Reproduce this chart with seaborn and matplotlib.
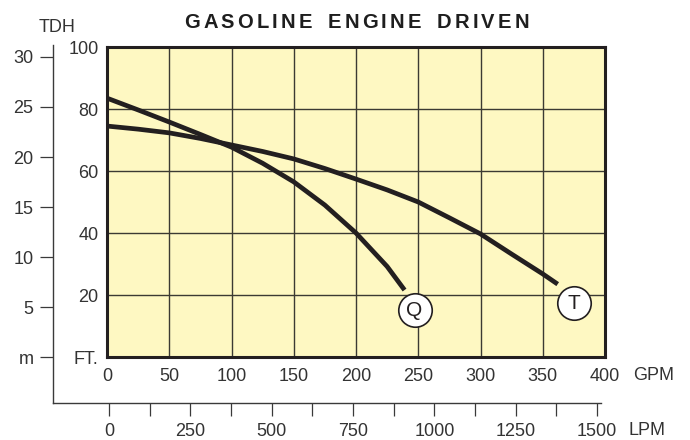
import matplotlib
matplotlib.use("Agg")
import matplotlib.pyplot as plt
import numpy as np
import pandas as pd
import seaborn as sns
from matplotlib.ticker import FixedLocator
from matplotlib.font_manager import findfont, FontProperties
from matplotlib.ft2font import FT2Font

plt.rcParams['font.family'] = ['Liberation Sans', 'DejaVu Sans']

# ---- data ----
gpm_T = [0, 25, 50, 75, 100, 125, 150, 175, 200, 225, 250, 275, 300, 325, 350, 362]
ft_T = [74.5, 73.5, 72.3, 70.5, 68.4, 66.3, 63.9, 60.8, 57.4, 53.9, 50.0, 44.9, 39.7, 33.2, 26.8, 23.5]
gpm_Q = [0, 25, 50, 75, 100, 125, 150, 175, 200, 225, 239]
ft_Q = [83.5, 79.7, 75.8, 71.8, 67.7, 62.5, 56.5, 49.0, 40.0, 29.2, 21.6]

gpm_ticks = [0, 50, 100, 150, 200, 250, 300, 350, 400]
ft_ticks = [0, 20, 40, 60, 80, 100]
ft_labels = ['FT.', '20', '40', '60', '80', '100']
m_ticks = [0, 5, 10, 15, 20, 25, 30]
m_labels = ['m', '5', '10', '15', '20', '25', '30']
lpm_ticks = [0, 250, 500, 750, 1000, 1250, 1500]
lpm_minor = [125, 375, 625, 875, 1125, 1375]

title = "GASOLINE ENGINE DRIVEN"

df = pd.DataFrame({
    'gpm': gpm_T + gpm_Q,
    'ft': ft_T + ft_Q,
    'curve': ['T'] * len(gpm_T) + ['Q'] * len(gpm_Q),
})

W, H = 690, 440
fig = plt.figure(figsize=(6.9, 4.4), dpi=100)
txt = '#333333'
dark = '#231f20'

def box(l, t, r, b):
    return [l / W, 1 - b / H, (r - l) / W, (b - t) / H]

# ---- outer axes: metres (left) and LPM (bottom) ----
ax2 = fig.add_axes(box(53, 45, 601, 403))
ax2.set_facecolor('none')
ax2.set_xlim((53 - 109) * 1500 / 488, (601 - 109) * 1500 / 488)
ax2.set_ylim(-(403 - 357) / 10, (357 - 45) / 10)
for s in ['top', 'right']:
    ax2.spines[s].set_visible(False)
for s in ['left', 'bottom']:
    ax2.spines[s].set_color('#3a3a3a')
    ax2.spines[s].set_linewidth(1.0)
ax2.yaxis.set_major_locator(FixedLocator(m_ticks))
ax2.set_yticklabels(m_labels)
ax2.xaxis.set_major_locator(FixedLocator(lpm_ticks))
ax2.xaxis.set_minor_locator(FixedLocator(lpm_minor))
ax2.set_xticklabels([str(v) for v in lpm_ticks])
ax2.tick_params(axis='y', direction='out', length=9.5, width=0.9, color='#3a3a3a',
                pad=4.5, labelsize=13, labelcolor=txt)
ax2.tick_params(axis='x', which='both', direction='out', length=9.5, width=0.9,
                color='#3a3a3a', pad=5, labelsize=13, labelcolor=txt)

# ---- inner chart ----
ax = fig.add_axes(box(107, 47, 605, 357))
ax.set_facecolor('#fef8c2')
sns.lineplot(data=df, x='gpm', y='ft', hue='curve', palette={'T': dark, 'Q': dark},
             sort=False, legend=False, linewidth=3.4, ax=ax, estimator=None)
for ln in ax.lines:
    ln.set_solid_capstyle('butt')
    ln.set_solid_joinstyle('round')
ax.set_xlim(0, 400)
ax.set_ylim(0, 100)
ax.xaxis.set_major_locator(FixedLocator(gpm_ticks))
ax.yaxis.set_major_locator(FixedLocator(ft_ticks))
ax.set_xticklabels([str(v) for v in gpm_ticks])
ax.set_yticklabels(ft_labels)
ax.set_xlabel('')
ax.set_ylabel('')
ax.grid(True, color='#3b3a33', linewidth=1.0)
ax.set_axisbelow(True)
for s in ax.spines.values():
    s.set_color(dark)
    s.set_linewidth(2.2)
ax.tick_params(axis='both', length=0, labelsize=13, labelcolor=txt)
ax.tick_params(axis='x', pad=8)
ax.tick_params(axis='y', pad=6)

# curve markers
for lab, x, y in [('Q', 247, 15.2), ('T', 375, 17.4)]:
    ax.scatter([x], [y], s=580, facecolor='white', edgecolor=dark, linewidth=1.2,
               zorder=5, clip_on=False)
    ax.text(x, y - 0.3, lab, ha='center', va='center', fontsize=15, color=dark,
            zorder=6, clip_on=False)

# unit labels
fig.text(633 / W, 1 - 375 / H, 'GPM', ha='left', va='center', fontsize=13, color=txt)
fig.text(628 / W, 1 - 430 / H, 'LPM', ha='left', va='center', fontsize=13, color=txt)
fig.text(57 / W, 1 - 27 / H, 'TDH', ha='center', va='center', fontsize=13, color=txt)

# title with letter spacing (tracking)
tsize = 14.5
fp = FontProperties(family='Liberation Sans', weight='bold', size=tsize)
ft2 = FT2Font(findfont(fp))
ft2.set_size(tsize, 100)
advs = [ft2.load_char(ord(c)).linearHoriAdvance / 65536 for c in title]
track, word_extra = 3.2, 4.0
pos, cur = [], 0.0
for c, a in zip(title, advs):
    pos.append(cur)
    cur += a + track + (word_extra if c == ' ' else 0)
total = cur - track
x0 = 356.5 - total / 2
for c, p in zip(title, pos):
    if c != ' ':
        fig.text((x0 + p) / W, 1 - 22 / H, c, ha='left', va='center', fontsize=tsize,
                 fontproperties=fp, color='#1e1e1e')

fig.savefig('out.png', dpi=100)
